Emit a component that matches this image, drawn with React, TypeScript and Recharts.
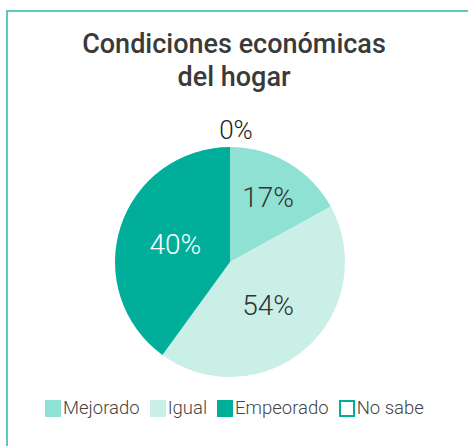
import { PieChart, Pie, Cell, Legend } from 'recharts';

const CATEGORIES = ['Mejorado', 'Igual', 'Empeorado', 'No sabe'];
const VALUES = [17, 43, 40, 0];
const VALUE_LABELS = ['17%', '54%', '40%', '0%'];
const COLORS = ['#8fe1d4', '#c9efe7', '#00ae9a', '#ffffff'];
const LABEL_COLORS = ['#333333', '#333333', '#ffffff', '#222222'];

const data = CATEGORIES.map((name, i) => ({ name, value: VALUES[i] }));
const RADIAN = Math.PI / 180;

function renderLabel(props: any) {
  const { cx, cy, midAngle, outerRadius, index, value } = props;
  // zero slice sits outside the pie, small slices further out than large ones
  const r = value === 0 ? outerRadius + 17 : outerRadius * (value < 25 ? 0.65 : 0.5);
  const x = cx + r * Math.cos(-midAngle * RADIAN);
  const y = cy + r * Math.sin(-midAngle * RADIAN);
  return (
    <text x={x} y={y} dx={value === 0 ? 6 : 0} textAnchor="middle" dominantBaseline="central"
      fill={LABEL_COLORS[index]} fontSize={value === 0 ? 26 : 28}
      fontWeight={300} fontFamily="Roboto">
      {VALUE_LABELS[index]}
    </text>
  );
}

function LegendContent() {
  return (
    <div style={{ display: 'flex', alignItems: 'center', fontFamily: 'Roboto', fontWeight: 300, fontSize: 18.5, color: '#444' }}>
      {CATEGORIES.map((name, i) => (
        <div key={name} style={{ display: 'flex', alignItems: 'center', marginRight: 10 }}>
          <span style={{
            display: 'inline-block', width: 16, height: 17, marginRight: 2, boxSizing: 'border-box',
            background: COLORS[i], border: i === 3 ? '2px solid #00ae9a' : 'none',
          }} />
          <span>{name}</span>
        </div>
      ))}
    </div>
  );
}

export default function App() {
  return (
    <div style={{ position: 'relative', width: 468, height: 446, overflow: 'hidden', background: '#fff' }}>
      <style>{'body{margin:0}'}</style>
      <div style={{ position: 'absolute', left: 6, top: 10, width: 480, height: 460, border: '2px solid #5ccbb9' }} />
      <div style={{
        position: 'absolute', top: 28, left: 0, width: 468, textAlign: 'center',
        fontFamily: 'Roboto', fontWeight: 500, fontSize: 27, lineHeight: '33px', color: '#3a3a3a',
      }}>
        Condiciones económicas<br />del hogar
      </div>
      <div style={{ position: 'absolute', left: 0, top: 0 }}>
        <PieChart width={468} height={446}>
          <Pie data={data} dataKey="value" nameKey="name" cx={225} cy={257} outerRadius={115}
            startAngle={90} endAngle={-270} stroke="none" label={renderLabel} labelLine={false}
            isAnimationActive={false}>
            {data.map((d, i) => <Cell key={d.name} fill={COLORS[i]} />)}
          </Pie>
          <Legend content={<LegendContent />} wrapperStyle={{ left: 45, top: 397, width: 'auto' }} />
        </PieChart>
      </div>
    </div>
  );
}
